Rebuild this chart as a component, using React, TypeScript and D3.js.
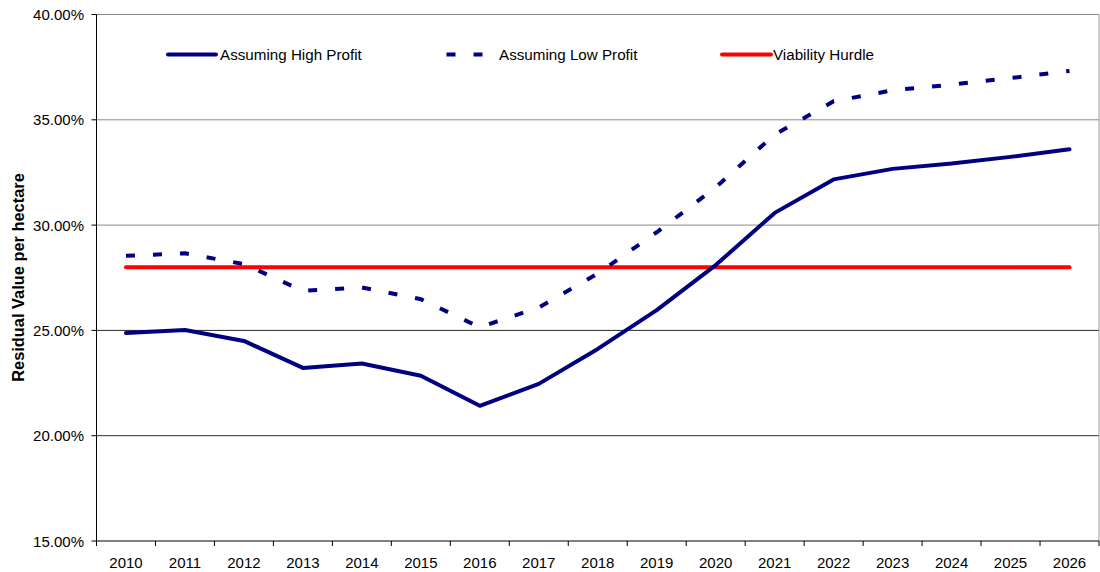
import React from "react";
import * as d3 from "d3";

const years = ["2010","2011","2012","2013","2014","2015","2016","2017","2018","2019","2020","2021","2022","2023","2024","2025","2026"];
const highProfit = [24.88, 25.02, 24.5, 23.22, 23.43, 22.85, 21.42, 22.46, 24.12, 25.96, 28.1, 30.58, 32.17, 32.67, 32.92, 33.24, 33.6];
const lowProfit = [28.54, 28.66, 28.15, 26.88, 27.04, 26.48, 25.15, 26.09, 27.7, 29.66, 31.79, 34.3, 35.88, 36.4, 36.67, 36.98, 37.32];
const hurdle = years.map(() => 28);
const yTicks = [15, 20, 25, 30, 35, 40];
const legendLabels = ["Assuming High Profit", "Assuming Low Profit", "Viability Hurdle"];

const NAVY = "#000080";
const RED = "#FF0000";
const FONT = "'Liberation Sans', Arial, sans-serif";

export default function App() {
  const left = 96.5, right = 1099, top = 14.5, bottom = 541;
  const x = d3.scalePoint<string>().domain(years).range([left, right]).padding(0.5);
  const band = d3.scaleBand<string>().domain(years).range([left, right]);
  const y = d3.scaleLinear().domain([15, 40]).range([bottom, top]);
  const line = d3.line<number>().x((_, i) => x(years[i])!).y((d) => y(d));

  const gridColor = (v: number) => (v === 25 || v === 20 ? "#2a2a2a" : "#8a8a8a");

  return (
    <svg width={1100} height={572} style={{ position: "absolute", left: 0, top: 0, background: "#fff" }} fontFamily={FONT}>
      <rect x={0} y={0} width={1100} height={572} fill="#fff" />
      {yTicks.filter((v) => v > 15).map((v) => (
        <line key={v} x1={left} x2={right} y1={y(v)} y2={y(v)} stroke={gridColor(v)} strokeWidth={1} />
      ))}
      <line x1={right} x2={right} y1={top} y2={bottom} stroke="#9a9a9a" strokeWidth={1} />
      {/* axes */}
      <line x1={left} x2={left} y1={top} y2={bottom} stroke="#000" strokeWidth={1} />
      <line x1={left} x2={right} y1={bottom} y2={bottom} stroke="#000" strokeWidth={1} />
      {yTicks.map((v) => (
        <g key={v}>
          <line x1={left - 5} x2={left} y1={y(v)} y2={y(v)} stroke="#000" />
          <text x={84} y={y(v) + 5.5} textAnchor="end" fontSize={15} fill="#000">{v.toFixed(2)}%</text>
        </g>
      ))}
      {years.map((yr) => (
        <line key={"t" + yr} x1={band(yr)!} x2={band(yr)!} y1={bottom} y2={bottom + 5} stroke="#000" />
      ))}
      <line x1={right} x2={right} y1={bottom} y2={bottom + 5} stroke="#000" />
      {years.map((yr) => (
        <text key={yr} x={x(yr)!} y={568} textAnchor="middle" fontSize={15} fill="#000">{yr}</text>
      ))}
      <text transform={`translate(23.5,277.5) rotate(-90)`} textAnchor="middle" fontSize={16.4} fontWeight="bold" fill="#000">
        Residual Value per hectare
      </text>

      {/* series */}
      <path d={line(hurdle)!} fill="none" stroke={RED} strokeWidth={4} strokeLinecap="round" />
      <path d={line(lowProfit)!} fill="none" stroke={NAVY} strokeWidth={4} strokeDasharray="9 18" />
      <path d={line(highProfit)!} fill="none" stroke={NAVY} strokeWidth={4} strokeLinejoin="round" strokeLinecap="round" />

      {/* legend */}
      <line x1={168} x2={216} y1={54.5} y2={54.5} stroke={NAVY} strokeWidth={4} strokeLinecap="round" />
      <text x={220} y={60} fontSize={15.2} fill="#000">{legendLabels[0]}</text>
      <line x1={446.5} x2={484} y1={54.5} y2={54.5} stroke={NAVY} strokeWidth={4} strokeDasharray="9 18" />
      <text x={499} y={60} fontSize={15.2} fill="#000">{legendLabels[1]}</text>
      <line x1={722} x2={771} y1={54.5} y2={54.5} stroke={RED} strokeWidth={4} strokeLinecap="round" />
      <text x={773} y={60} fontSize={15.2} fill="#000">{legendLabels[2]}</text>
    </svg>
  );
}
